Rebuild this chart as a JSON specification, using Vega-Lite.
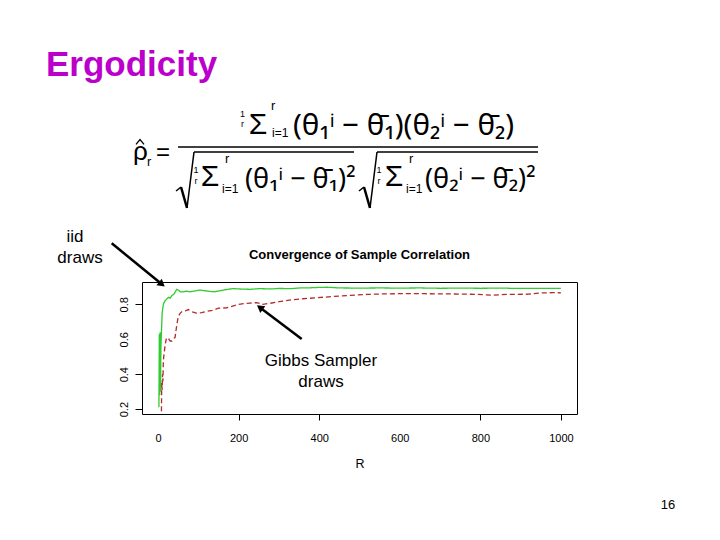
{
  "$schema": "https://vega.github.io/schema/vega-lite/v6.json",
  "autosize": {"type": "none"},
  "width": 435,
  "height": 132,
  "padding": {"left": 142, "top": 282, "right": 143, "bottom": 126},
  "background": "white",
  "datasets": {
    "corr": [
      {"R": 2, "rho": 0.21, "draws": "iid"},
      {"R": 3, "rho": 0.63, "draws": "iid"},
      {"R": 4, "rho": 0.28, "draws": "iid"},
      {"R": 5, "rho": 0.64, "draws": "iid"},
      {"R": 6, "rho": 0.30, "draws": "iid"},
      {"R": 7, "rho": 0.56, "draws": "iid"},
      {"R": 8, "rho": 0.62, "draws": "iid"},
      {"R": 10, "rho": 0.75, "draws": "iid"},
      {"R": 13, "rho": 0.80, "draws": "iid"},
      {"R": 17, "rho": 0.82, "draws": "iid"},
      {"R": 21, "rho": 0.83, "draws": "iid"},
      {"R": 26, "rho": 0.84, "draws": "iid"},
      {"R": 30, "rho": 0.835, "draws": "iid"},
      {"R": 34, "rho": 0.85, "draws": "iid"},
      {"R": 40, "rho": 0.86, "draws": "iid"},
      {"R": 46, "rho": 0.886, "draws": "iid"},
      {"R": 50, "rho": 0.882, "draws": "iid"},
      {"R": 55, "rho": 0.872, "draws": "iid"},
      {"R": 63, "rho": 0.872, "draws": "iid"},
      {"R": 71, "rho": 0.876, "draws": "iid"},
      {"R": 79, "rho": 0.872, "draws": "iid"},
      {"R": 90, "rho": 0.876, "draws": "iid"},
      {"R": 104, "rho": 0.882, "draws": "iid"},
      {"R": 115, "rho": 0.878, "draws": "iid"},
      {"R": 129, "rho": 0.874, "draws": "iid"},
      {"R": 140, "rho": 0.872, "draws": "iid"},
      {"R": 154, "rho": 0.878, "draws": "iid"},
      {"R": 170, "rho": 0.885, "draws": "iid"},
      {"R": 185, "rho": 0.89, "draws": "iid"},
      {"R": 203, "rho": 0.888, "draws": "iid"},
      {"R": 228, "rho": 0.886, "draws": "iid"},
      {"R": 253, "rho": 0.89, "draws": "iid"},
      {"R": 280, "rho": 0.888, "draws": "iid"},
      {"R": 300, "rho": 0.891, "draws": "iid"},
      {"R": 330, "rho": 0.89, "draws": "iid"},
      {"R": 352, "rho": 0.894, "draws": "iid"},
      {"R": 380, "rho": 0.895, "draws": "iid"},
      {"R": 400, "rho": 0.897, "draws": "iid"},
      {"R": 420, "rho": 0.898, "draws": "iid"},
      {"R": 450, "rho": 0.894, "draws": "iid"},
      {"R": 500, "rho": 0.893, "draws": "iid"},
      {"R": 550, "rho": 0.894, "draws": "iid"},
      {"R": 600, "rho": 0.893, "draws": "iid"},
      {"R": 650, "rho": 0.894, "draws": "iid"},
      {"R": 700, "rho": 0.892, "draws": "iid"},
      {"R": 750, "rho": 0.893, "draws": "iid"},
      {"R": 800, "rho": 0.892, "draws": "iid"},
      {"R": 850, "rho": 0.893, "draws": "iid"},
      {"R": 900, "rho": 0.891, "draws": "iid"},
      {"R": 950, "rho": 0.892, "draws": "iid"},
      {"R": 1000, "rho": 0.891, "draws": "iid"},
      {"R": 5, "rho": 0.05, "draws": "Gibbs"},
      {"R": 8, "rho": 0.12, "draws": "Gibbs"},
      {"R": 9, "rho": 0.35, "draws": "Gibbs"},
      {"R": 10, "rho": 0.31, "draws": "Gibbs"},
      {"R": 11, "rho": 0.40, "draws": "Gibbs"},
      {"R": 12, "rho": 0.36, "draws": "Gibbs"},
      {"R": 13, "rho": 0.48, "draws": "Gibbs"},
      {"R": 15, "rho": 0.52, "draws": "Gibbs"},
      {"R": 17, "rho": 0.56, "draws": "Gibbs"},
      {"R": 20, "rho": 0.60, "draws": "Gibbs"},
      {"R": 24, "rho": 0.61, "draws": "Gibbs"},
      {"R": 27, "rho": 0.60, "draws": "Gibbs"},
      {"R": 30, "rho": 0.59, "draws": "Gibbs"},
      {"R": 34, "rho": 0.59, "draws": "Gibbs"},
      {"R": 38, "rho": 0.605, "draws": "Gibbs"},
      {"R": 42, "rho": 0.61, "draws": "Gibbs"},
      {"R": 46, "rho": 0.676, "draws": "Gibbs"},
      {"R": 50, "rho": 0.73, "draws": "Gibbs"},
      {"R": 55, "rho": 0.75, "draws": "Gibbs"},
      {"R": 60, "rho": 0.76, "draws": "Gibbs"},
      {"R": 67, "rho": 0.762, "draws": "Gibbs"},
      {"R": 75, "rho": 0.77, "draws": "Gibbs"},
      {"R": 85, "rho": 0.757, "draws": "Gibbs"},
      {"R": 95, "rho": 0.75, "draws": "Gibbs"},
      {"R": 108, "rho": 0.752, "draws": "Gibbs"},
      {"R": 121, "rho": 0.76, "draws": "Gibbs"},
      {"R": 135, "rho": 0.766, "draws": "Gibbs"},
      {"R": 150, "rho": 0.778, "draws": "Gibbs"},
      {"R": 170, "rho": 0.78, "draws": "Gibbs"},
      {"R": 185, "rho": 0.79, "draws": "Gibbs"},
      {"R": 200, "rho": 0.80, "draws": "Gibbs"},
      {"R": 215, "rho": 0.805, "draws": "Gibbs"},
      {"R": 228, "rho": 0.807, "draws": "Gibbs"},
      {"R": 245, "rho": 0.81, "draws": "Gibbs"},
      {"R": 260, "rho": 0.80, "draws": "Gibbs"},
      {"R": 278, "rho": 0.806, "draws": "Gibbs"},
      {"R": 300, "rho": 0.815, "draws": "Gibbs"},
      {"R": 330, "rho": 0.826, "draws": "Gibbs"},
      {"R": 360, "rho": 0.832, "draws": "Gibbs"},
      {"R": 394, "rho": 0.838, "draws": "Gibbs"},
      {"R": 435, "rho": 0.845, "draws": "Gibbs"},
      {"R": 476, "rho": 0.851, "draws": "Gibbs"},
      {"R": 520, "rho": 0.857, "draws": "Gibbs"},
      {"R": 560, "rho": 0.86, "draws": "Gibbs"},
      {"R": 600, "rho": 0.861, "draws": "Gibbs"},
      {"R": 660, "rho": 0.861, "draws": "Gibbs"},
      {"R": 700, "rho": 0.86, "draws": "Gibbs"},
      {"R": 750, "rho": 0.859, "draws": "Gibbs"},
      {"R": 790, "rho": 0.857, "draws": "Gibbs"},
      {"R": 830, "rho": 0.853, "draws": "Gibbs"},
      {"R": 870, "rho": 0.857, "draws": "Gibbs"},
      {"R": 920, "rho": 0.858, "draws": "Gibbs"},
      {"R": 950, "rho": 0.865, "draws": "Gibbs"},
      {"R": 980, "rho": 0.867, "draws": "Gibbs"},
      {"R": 1000, "rho": 0.866, "draws": "Gibbs"}
    ]
  },
  "data": {"values": [{}]},
  "layer": [
    {
      "data": {"name": "corr"},
      "mark": {"type": "line", "clip": true, "strokeWidth": 1.3},
      "encoding": {
        "x": {"field": "R", "type": "quantitative", "title": "R",
          "scale": {"domain": [-40, 1040], "nice": false, "zero": false},
          "axis": {"values": [0, 200, 400, 600, 800, 1000], "format": "d", "tickSize": 6, "labelFontSize": 11, "labelPadding": 12, "labelFlush": false, "labelOverlap": false, "titleFontSize": 12.5, "titleFontWeight": "normal", "titlePadding": 14,
            "tickOpacity": {"condition": {"test": "datum.value == 0 || datum.value == 600", "value": 0}, "value": 1}}},
        "y": {"field": "rho", "type": "quantitative", "title": null,
          "scale": {"domain": [0.172, 0.928], "nice": false, "zero": false},
          "axis": {"values": [0.2, 0.3, 0.4, 0.5, 0.6, 0.7, 0.8, 0.9], "format": ".1f", "labelExpr": "indexof(['0.2', '0.4', '0.6', '0.8'], datum.label) >= 0 ? datum.label : ''", "tickSize": 7, "labelAngle": 270, "labelAlign": "center", "labelBaseline": "bottom", "labelPadding": 6, "labelFontSize": 11, "labelOverlap": false, "labelFlush": false, "labelBound": false,
            "tickOpacity": {"condition": {"test": "datum.label == '0.6' || datum.label == '0.7'", "value": 0}, "value": 1}}},
        "color": {"field": "draws", "type": "nominal", "legend": null, "scale": {"domain": ["iid", "Gibbs"], "range": ["#2ECC2E", "#B22A2A"]}},
        "strokeDash": {"field": "draws", "type": "nominal", "legend": null, "scale": {"domain": ["iid", "Gibbs"], "range": [[1, 0], [5, 3]]}}
      }
    },
    {"mark": {"type": "text", "text": "Convergence of Sample Correlation", "align": "center", "baseline": "middle", "font": "Liberation Sans", "fontSize": 13, "fontWeight": "bold", "color": "black"},
     "encoding": {"x": {"datum": 500.0}, "y": {"datum": 1.0826}}},
    {"mark": {"type": "text", "text": "Ergodicity", "align": "left", "baseline": "alphabetic", "font": "Liberation Sans", "fontSize": 35, "fontWeight": "bold", "color": "#BB00CC"},
     "encoding": {"x": {"datum": -278.3}, "y": {"datum": 2.108}}},
    {"mark": {"type": "text", "text": "iid", "align": "center", "baseline": "middle", "font": "Liberation Sans", "fontSize": 17, "color": "black"},
     "encoding": {"x": {"datum": -206.3}, "y": {"datum": 1.1857}}},
    {"mark": {"type": "text", "text": "draws", "align": "center", "baseline": "middle", "font": "Liberation Sans", "fontSize": 17, "color": "black"},
     "encoding": {"x": {"datum": -193.9}, "y": {"datum": 1.0655}}},
    {"mark": {"type": "text", "text": "Gibbs Sampler", "align": "center", "baseline": "middle", "font": "Liberation Sans", "fontSize": 17, "color": "black"},
     "encoding": {"x": {"datum": 404.4}, "y": {"datum": 0.4755}}},
    {"mark": {"type": "text", "text": "draws", "align": "center", "baseline": "middle", "font": "Liberation Sans", "fontSize": 17, "color": "black"},
     "encoding": {"x": {"datum": 404.4}, "y": {"datum": 0.3553}}},
    {"mark": {"type": "text", "text": "16", "align": "center", "baseline": "middle", "font": "Liberation Sans", "fontSize": 13, "color": "black"},
     "encoding": {"x": {"datum": 1265.9}, "y": {"datum": -0.3492}}},
    {"mark": {"type": "rule", "color": "black", "strokeWidth": 2.5},
     "encoding": {"x": {"datum": -115.2}, "y": {"datum": 1.1496}, "x2": {"datum": 9.43}, "y2": {"datum": 0.9154}}},
    {"mark": {"type": "point", "shape": "triangle-up", "filled": true, "color": "black", "opacity": 1, "size": 70, "angle": 129.2},
     "encoding": {"x": {"datum": 9.43}, "y": {"datum": 0.9154}}},
    {"mark": {"type": "rule", "color": "black", "strokeWidth": 2.5},
     "encoding": {"x": {"datum": 356.5}, "y": {"datum": 0.6015}, "x2": {"datum": 252.7}, "y2": {"datum": 0.7825}}},
    {"mark": {"type": "point", "shape": "triangle-up", "filled": true, "color": "black", "opacity": 1, "size": 70, "angle": 307.1},
     "encoding": {"x": {"datum": 252.7}, "y": {"datum": 0.7825}}},
    {"mark": {"type": "text", "text": "ρ", "align": "left", "baseline": "alphabetic", "font": "Liberation Sans", "fontSize": 26, "color": "black"},
     "encoding": {"x": {"datum": -62.31}, "y": {"datum": 1.6267}}},
    {"mark": {"type": "point", "shape": "M-1,0.6L0,-0.6L1,0.6", "filled": false, "color": "black", "opacity": 1, "strokeWidth": 1.3, "size": 64},
     "encoding": {"x": {"datum": -44.94}, "y": {"datum": 1.7298}}},
    {"mark": {"type": "text", "text": "r", "align": "left", "baseline": "alphabetic", "font": "Liberation Sans", "fontSize": 13, "color": "black"},
     "encoding": {"x": {"datum": -27.56}, "y": {"datum": 1.5924}}},
    {"mark": {"type": "text", "text": "=", "align": "left", "baseline": "alphabetic", "font": "Liberation Sans", "fontSize": 24, "color": "black"},
     "encoding": {"x": {"datum": -5.21}, "y": {"datum": 1.6267}}},
    {"mark": {"type": "rule", "color": "black", "strokeWidth": 1.5},
     "encoding": {"x": {"datum": 49.4}, "y": {"datum": 1.7012}, "x2": {"datum": 943.15}, "y2": {"datum": 1.7012}}},
    {"mark": {"type": "text", "text": "1", "align": "center", "baseline": "alphabetic", "font": "Liberation Sans", "fontSize": 9, "color": "black"},
     "encoding": {"x": {"datum": 209.53}, "y": {"datum": 1.873}}},
    {"mark": {"type": "text", "text": "r", "align": "center", "baseline": "alphabetic", "font": "Liberation Sans", "fontSize": 9, "color": "black"},
     "encoding": {"x": {"datum": 209.53}, "y": {"datum": 1.8129}}},
    {"mark": {"type": "text", "text": "Σ", "align": "center", "baseline": "alphabetic", "font": "Liberation Sans", "fontSize": 30, "color": "black"},
     "encoding": {"x": {"datum": 248.01}, "y": {"datum": 1.7756}}},
    {"mark": {"type": "text", "text": "r", "align": "left", "baseline": "alphabetic", "font": "Liberation Sans", "fontSize": 13, "color": "black"},
     "encoding": {"x": {"datum": 280.29}, "y": {"datum": 1.9131}}},
    {"mark": {"type": "text", "text": "i=1", "align": "left", "baseline": "alphabetic", "font": "Liberation Sans", "fontSize": 12, "color": "black"},
     "encoding": {"x": {"datum": 282.77}, "y": {"datum": 1.7585}}},
    {"mark": {"type": "text", "text": "(θ₁ⁱ − θ̄₁)(θ₂ⁱ − θ̄₂)", "align": "left", "baseline": "alphabetic", "font": "Noto Sans", "fontSize": 29.5, "color": "black"},
     "encoding": {"x": {"datum": 334.91}, "y": {"datum": 1.7699}}},
    {"mark": {"type": "rule", "color": "black", "strokeWidth": 1.5},
     "encoding": {"x": {"datum": 44.44}, "y": {"datum": 1.4492}, "x2": {"datum": 56.85}, "y2": {"datum": 1.4721}}},
    {"mark": {"type": "rule", "color": "black", "strokeWidth": 2.5},
     "encoding": {"x": {"datum": 56.85}, "y": {"datum": 1.4721}, "x2": {"datum": 71.75}, "y2": {"datum": 1.3518}}},
    {"mark": {"type": "rule", "color": "black", "strokeWidth": 1.5},
     "encoding": {"x": {"datum": 71.75}, "y": {"datum": 1.3518}, "x2": {"datum": 89.13}, "y2": {"datum": 1.6726}}},
    {"mark": {"type": "rule", "color": "black", "strokeWidth": 1.5},
     "encoding": {"x": {"datum": 89.13}, "y": {"datum": 1.6726}, "x2": {"datum": 486.35}, "y2": {"datum": 1.6726}}},
    {"mark": {"type": "text", "text": "1", "align": "center", "baseline": "alphabetic", "font": "Liberation Sans", "fontSize": 9, "color": "black"},
     "encoding": {"x": {"datum": 94.09}, "y": {"datum": 1.5523}}},
    {"mark": {"type": "text", "text": "r", "align": "center", "baseline": "alphabetic", "font": "Liberation Sans", "fontSize": 9, "color": "black"},
     "encoding": {"x": {"datum": 94.09}, "y": {"datum": 1.4921}}},
    {"mark": {"type": "text", "text": "Σ", "align": "center", "baseline": "alphabetic", "font": "Liberation Sans", "fontSize": 30, "color": "black"},
     "encoding": {"x": {"datum": 128.85}, "y": {"datum": 1.4778}}},
    {"mark": {"type": "text", "text": "r", "align": "left", "baseline": "alphabetic", "font": "Liberation Sans", "fontSize": 13, "color": "black"},
     "encoding": {"x": {"datum": 166.09}, "y": {"datum": 1.6096}}},
    {"mark": {"type": "text", "text": "i=1", "align": "left", "baseline": "alphabetic", "font": "Liberation Sans", "fontSize": 12, "color": "black"},
     "encoding": {"x": {"datum": 158.64}, "y": {"datum": 1.4377}}},
    {"mark": {"type": "text", "text": "(θ₁ⁱ − θ̄₁)²", "align": "left", "baseline": "alphabetic", "font": "Noto Sans", "fontSize": 27, "color": "black"},
     "encoding": {"x": {"datum": 215.74}, "y": {"datum": 1.4664}}},
    {"mark": {"type": "rule", "color": "black", "strokeWidth": 1.5},
     "encoding": {"x": {"datum": 498.76}, "y": {"datum": 1.4492}, "x2": {"datum": 511.17}, "y2": {"datum": 1.4721}}},
    {"mark": {"type": "rule", "color": "black", "strokeWidth": 2.5},
     "encoding": {"x": {"datum": 511.17}, "y": {"datum": 1.4721}, "x2": {"datum": 526.07}, "y2": {"datum": 1.3518}}},
    {"mark": {"type": "rule", "color": "black", "strokeWidth": 1.5},
     "encoding": {"x": {"datum": 526.07}, "y": {"datum": 1.3518}, "x2": {"datum": 543.45}, "y2": {"datum": 1.6726}}},
    {"mark": {"type": "rule", "color": "black", "strokeWidth": 1.5},
     "encoding": {"x": {"datum": 543.45}, "y": {"datum": 1.6726}, "x2": {"datum": 943.15}, "y2": {"datum": 1.6726}}},
    {"mark": {"type": "text", "text": "1", "align": "center", "baseline": "alphabetic", "font": "Liberation Sans", "fontSize": 9, "color": "black"},
     "encoding": {"x": {"datum": 548.41}, "y": {"datum": 1.5523}}},
    {"mark": {"type": "text", "text": "r", "align": "center", "baseline": "alphabetic", "font": "Liberation Sans", "fontSize": 9, "color": "black"},
     "encoding": {"x": {"datum": 548.41}, "y": {"datum": 1.4921}}},
    {"mark": {"type": "text", "text": "Σ", "align": "center", "baseline": "alphabetic", "font": "Liberation Sans", "fontSize": 30, "color": "black"},
     "encoding": {"x": {"datum": 585.65}, "y": {"datum": 1.4778}}},
    {"mark": {"type": "text", "text": "r", "align": "left", "baseline": "alphabetic", "font": "Liberation Sans", "fontSize": 13, "color": "black"},
     "encoding": {"x": {"datum": 622.89}, "y": {"datum": 1.6096}}},
    {"mark": {"type": "text", "text": "i=1", "align": "left", "baseline": "alphabetic", "font": "Liberation Sans", "fontSize": 12, "color": "black"},
     "encoding": {"x": {"datum": 615.44}, "y": {"datum": 1.4377}}},
    {"mark": {"type": "text", "text": "(θ₂ⁱ − θ̄₂)²", "align": "left", "baseline": "alphabetic", "font": "Noto Sans", "fontSize": 27, "color": "black"},
     "encoding": {"x": {"datum": 662.61}, "y": {"datum": 1.4664}}}
  ],
  "config": {
    "font": "Liberation Sans",
    "view": {"stroke": "black", "strokeWidth": 1},
    "axis": {"domain": false, "grid": false, "tickColor": "black", "labelColor": "black", "titleColor": "black", "labelFont": "Liberation Sans", "titleFont": "Liberation Sans"}
  }
}
